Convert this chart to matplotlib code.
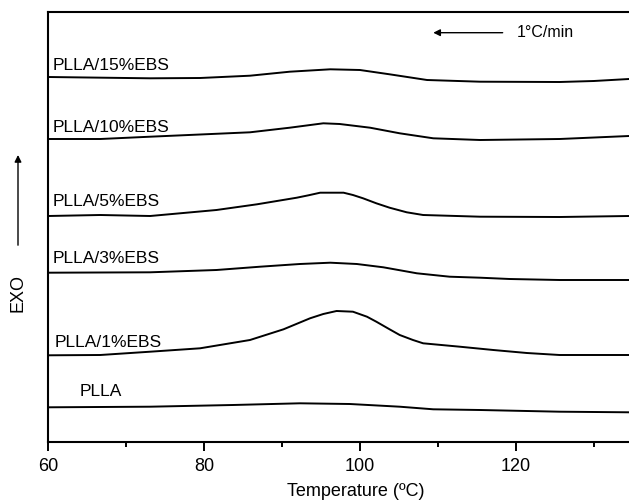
import matplotlib
matplotlib.use('Agg')
import matplotlib.pyplot as plt

plt.rcParams['font.family'] = ['Liberation Sans', 'DejaVu Sans']

# DSC cooling curves, heat flow in arbitrary units (offset stacked)
t_15 = [60, 73.1, 79.5, 85.9, 91.0, 96.2, 100.0, 103.8, 108.6, 115.4, 125.6, 130.0, 134.5]
h_15 = [365, 363.7, 364, 366.3, 370.3, 372.7, 372, 367.7, 362, 360.3, 360, 361, 363]

t_10 = [60, 66.7, 73.1, 85.9, 91.0, 95.3, 97.4, 101.3, 105.1, 109.4, 115.4, 125.6, 134.5]
h_10 = [303, 303, 305.3, 309.7, 314.3, 318.7, 318, 314.3, 308.7, 303.7, 302, 303, 306]

t_5 = [60, 66.7, 73.1, 81.6, 86.8, 91.9, 93.4, 94.9, 97.9, 99.1, 100.4, 102.1, 103.8,
       106.0, 108.1, 115.4, 125.6, 134.5]
h_5 = [226, 227, 226, 232, 237.7, 244.3, 246.7, 249.3, 249.3, 247, 243.7, 238.7, 234.3,
       229.7, 227, 225.3, 225, 226]

t_3 = [60, 73.1, 81.6, 87.2, 92.3, 96.2, 99.6, 103.0, 107.3, 111.5, 115.4, 119.2, 125.6, 134.5]
h_3 = [169.3, 169.7, 172, 175.3, 178, 179.3, 178, 174.7, 168.7, 165.3, 164.3, 163, 162, 162]

t_1 = [60, 66.7, 73.1, 79.5, 85.9, 90.2, 93.6, 95.3, 97.0, 99.1, 100.9, 102.1, 103.8, 105.1,
       106.8, 108.1, 112.8, 117.1, 121.4, 125.6, 134.5]
h_1 = [86.7, 87, 90.3, 93.7, 102, 112.7, 123.7, 128, 131, 130.3, 125.3, 120.3, 112.7, 107,
       102, 98.7, 95.3, 92, 89, 87, 87]

t_0 = [60, 73.1, 83.7, 92.3, 98.7, 105.1, 109.4, 115.4, 125.6, 134.5]
h_0 = [34.7, 35.3, 37, 38.7, 38, 35.3, 32.7, 32, 30.3, 29.7]

curves = [(t_15, h_15), (t_10, h_10), (t_5, h_5), (t_3, h_3), (t_1, h_1), (t_0, h_0)]
names = ['PLLA/15%EBS', 'PLLA/10%EBS', 'PLLA/5%EBS', 'PLLA/3%EBS', 'PLLA/1%EBS', 'PLLA']
label_x = [60.6, 60.6, 60.6, 60.6, 60.9, 64.1]
label_y = [372, 310.3, 236, 178.7, 95.3, 46]

fig = plt.figure(figsize=(6.29, 5.04), dpi=100)
ax = fig.add_axes([48 / 629, 62 / 504, 581 / 629, 430 / 504])

for (t, h) in curves:
    ax.plot(t, h, color='black', linewidth=1.4)

for name, x, y in zip(names, label_x, label_y):
    ax.text(x, y, name, ha='left', va='baseline', fontsize=12.5)

ax.set_xlim(60, 134.5)
ax.set_ylim(0, 430)
ax.set_xticks([60, 80, 100, 120])
ax.set_xticks([70, 90, 110, 130], minor=True)
ax.set_yticks([])
ax.tick_params(axis='x', which='major', direction='out', length=6.5, width=1.4,
               labelsize=13, pad=5)
ax.tick_params(axis='x', which='minor', direction='out', length=3.5, width=1.4)
for s in ['left', 'bottom', 'top']:
    ax.spines[s].set_linewidth(1.5)
ax.spines['right'].set_visible(False)

ax.set_xlabel('Temperature (ºC)', fontsize=13, va='center')
ax.xaxis.set_label_coords(0.530, -0.1156)

# cooling rate arrow
ax.annotate('', xy=(109.4, 409.3), xytext=(118.3, 409.3),
            arrowprops=dict(arrowstyle='-|>', color='black', lw=1.0,
                            mutation_scale=10, shrinkA=0, shrinkB=0))
ax.text(120.1, 409.3, '1°C/min', ha='left', va='center', fontsize=11.5)

# EXO arrow
fig.patches.append(matplotlib.patches.FancyArrowPatch(
    (18 / 629, 0.508), (18 / 629, 0.698), transform=fig.transFigure,
    arrowstyle='-|>', mutation_scale=10, color='black', lw=1.0))
fig.text(18 / 629, 0.419, 'EXO', rotation=90, ha='center', va='center', fontsize=13)

plt.savefig('out.png', dpi=100)
